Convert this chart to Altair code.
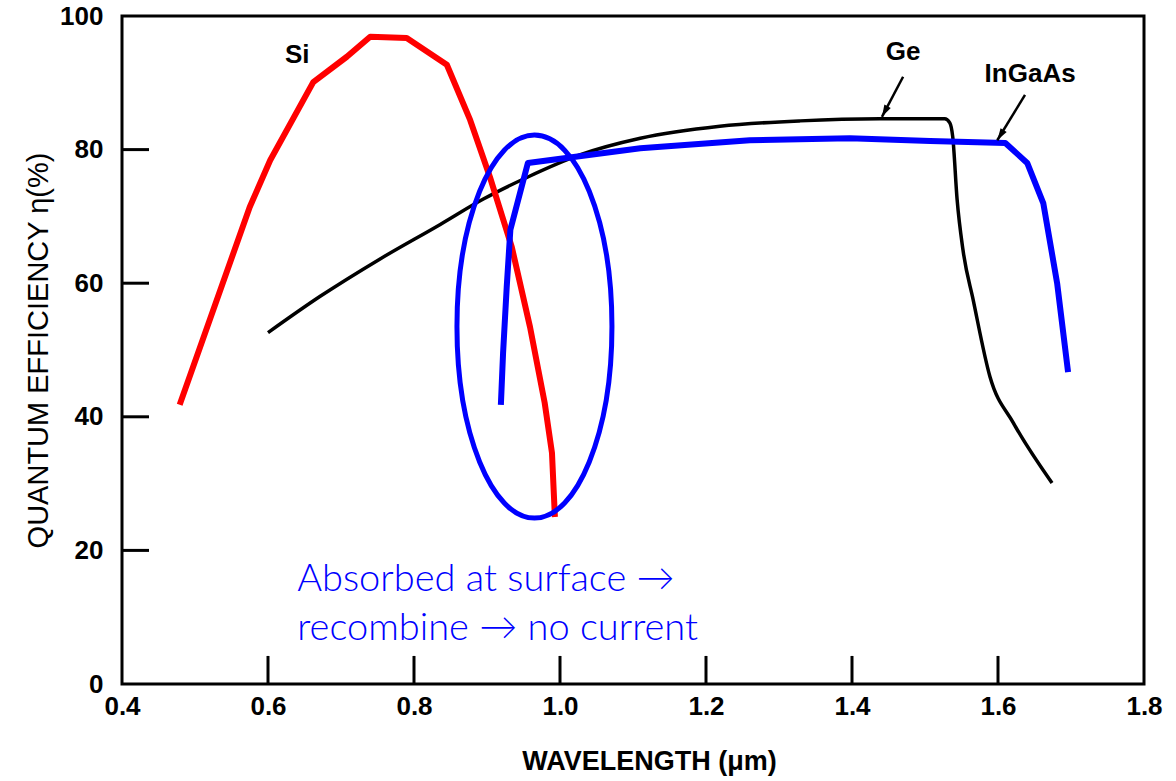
import altair as alt
import pandas as pd

# ---- data ----
si_x = [0.479, 0.537, 0.575, 0.603, 0.662, 0.708, 0.740, 0.790, 0.845, 0.877, 0.904, 0.934, 0.959, 0.979, 0.989, 0.993]
si_y = [41.8, 59.7, 71.4, 78.4, 90.1, 93.9, 96.9, 96.7, 92.7, 84.4, 75.9, 65.4, 53.4, 42.1, 34.6, 25.0]

ge_x = [0.600, 0.671, 0.753, 0.836, 0.895, 0.956, 1.027, 1.110, 1.219, 1.329, 1.438, 1.507, 1.527, 1.534, 1.538, 1.544, 1.552, 1.566, 1.589, 1.621, 1.674]
ge_y = [52.6, 58.0, 63.6, 68.8, 72.6, 75.9, 79.2, 81.7, 83.5, 84.3, 84.6, 84.6, 84.6, 84.0, 81.9, 72.5, 65.0, 57.5, 46.0, 39.1, 30.1]

ingaas_x = [0.919, 0.922, 0.927, 0.932, 0.956, 1.110, 1.260, 1.397, 1.507, 1.610, 1.640, 1.662, 1.681, 1.696]
ingaas_y = [41.8, 49.5, 59.4, 68.0, 78.0, 80.2, 81.4, 81.7, 81.3, 81.0, 78.0, 72.0, 60.0, 46.7]

x_labels = [0.4, 0.6, 0.8, 1.0, 1.2, 1.4, 1.6, 1.8]
y_labels = [0, 20, 40, 60, 80, 100]
x_inner_ticks = [0.6, 0.8, 1.0, 1.2, 1.4, 1.6]
y_inner_ticks = [20, 40, 60, 80]

curve_labels = ["Si", "Ge", "InGaAs"]
curve_label_x = [0.640, 1.470, 1.644]
curve_label_y = [94.2, 94.6, 91.3]

arrow_x = [1.470, 1.637]
arrow_y = [90.9, 88.2]
arrow_x2 = [1.441, 1.599]
arrow_y2 = [84.9, 81.4]
arrow_angle = [28, 32]

note_lines = ["Absorbed at surface \u2192", "recombine \u2192 no current"]
note_x = [0.640, 0.640]
note_y = [13.9, 6.6]

ellipse_x = [0.965]
ellipse_y = [53.5]

# ---- frames ----
def curve(xs, ys):
    return pd.DataFrame({"x": xs, "y": ys, "i": list(range(len(xs)))})

si_df = curve(si_x, si_y)
ge_df = curve(ge_x, ge_y)
in_df = curve(ingaas_x, ingaas_y)
xt_df = pd.DataFrame({"x": x_inner_ticks, "y": [0] * len(x_inner_ticks), "y2": [4.2] * len(x_inner_ticks)})
yt_df = pd.DataFrame({"y": y_inner_ticks, "x": [0.4] * len(y_inner_ticks), "x2": [0.437] * len(y_inner_ticks)})
lab_df = pd.DataFrame({"t": curve_labels, "x": curve_label_x, "y": curve_label_y})
arr_df = pd.DataFrame({"x": arrow_x, "y": arrow_y, "x2": arrow_x2, "y2": arrow_y2, "a": arrow_angle})
head_df = pd.DataFrame({"x": arrow_x2, "y": arrow_y2, "a": arrow_angle})
note_df = pd.DataFrame({"t": note_lines, "x": note_x, "y": note_y})
ell_df = pd.DataFrame({"x": ellipse_x, "y": ellipse_y})

xs = alt.Scale(domain=[0.4, 1.8], nice=False, zero=False)
ys = alt.Scale(domain=[0, 100], nice=False, zero=False)

FONT = "Liberation Sans"
XT = "WAVELENGTH (\u03bcm)"
YT = "QUANTUM EFFICIENCY \u03b7(%)"

x_axis = alt.Axis(values=x_labels, format=".1f", labelFont=FONT, labelFontWeight="bold",
                  labelFontSize=26, labelColor="black", labelPadding=9, labelFlush=False,
                  ticks=False, tickSize=0, domain=False, grid=False,
                  titleFont=FONT, titleFontSize=27, titleFontWeight="bold", titleColor="black",
                  titleX=527, titleY=85, titleBaseline="alphabetic", titleAlign="center")
y_axis = alt.Axis(values=y_labels, labelFont=FONT, labelFontWeight="bold", labelFontSize=26,
                  labelColor="black", labelPadding=19, ticks=False, tickSize=0, domain=False, grid=False,
                  titleFont=FONT, titleFontSize=29, titleFontWeight="normal", titleColor="black",
                  titleX=-84, titleY=334, titleAngle=270, titleAlign="center", titleBaseline="middle")

XE = alt.X("x:Q", scale=xs, axis=x_axis, title=XT)
YE = alt.Y("y:Q", scale=ys, axis=y_axis, title=YT)

ge = alt.Chart(ge_df).mark_line(color="black", strokeWidth=3.5, interpolate="monotone").encode(
    x=XE, y=YE, order="i:Q")

si = alt.Chart(si_df).mark_line(color="#ff0000", strokeWidth=6, strokeJoin="round").encode(
    x=XE, y=YE, order="i:Q")

ing = alt.Chart(in_df).mark_line(color="#0000ff", strokeWidth=6, strokeJoin="round").encode(
    x=XE, y=YE, order="i:Q")

ell_path = ("M 0.775 0 C 0.775 1.058 0.428 1.915 0 1.915 C -0.428 1.915 -0.775 1.058 -0.775 0 "
            "C -0.775 -1.058 -0.428 -1.915 0 -1.915 C 0.428 -1.915 0.775 -1.058 0.775 0 Z")
ell = alt.Chart(ell_df).mark_point(shape=ell_path, size=40000, filled=False, stroke="#0000ff",
                                   strokeWidth=5, opacity=1).encode(x=XE, y=YE)

xt = alt.Chart(xt_df).mark_rule(color="black", strokeWidth=3).encode(x=XE, y=YE, y2="y2:Q")
yt = alt.Chart(yt_df).mark_rule(color="black", strokeWidth=3).encode(x=XE, y=YE, x2="x2:Q")

arr = alt.Chart(arr_df).mark_rule(color="black", strokeWidth=2.5).encode(
    x=XE, y=YE, x2="x2:Q", y2="y2:Q")
head = alt.Chart(head_df).mark_point(shape="M 0 0 L -0.6 -2 L 0.6 -2 Z", size=144, filled=True,
                                     color="black", opacity=1).encode(
    x=XE, y=YE, angle=alt.Angle("a:Q", scale=None))

labs = alt.Chart(lab_df).mark_text(font=FONT, fontWeight="bold", fontSize=26, color="black",
                                   align="center", baseline="middle").encode(
    x=XE, y=YE, text="t:N")

note = alt.Chart(note_df).mark_text(font="Lato", fontWeight=300, fontSize=38, color="#0000ff",
                                    align="left", baseline="alphabetic").encode(
    x=XE, y=YE, text="t:N")

chart = alt.layer(ge, si, ing, ell, xt, yt, arr, head, labs, note).properties(
    width=1022, height=668,
    autosize=alt.AutoSizeParams(type="none"),
    padding={"left": 122, "top": 16, "right": 32, "bottom": 97},
    background="white",
).configure_view(stroke="black", strokeWidth=3)

chart.save("out.html", embed_options={"renderer": "svg", "actions": False})
